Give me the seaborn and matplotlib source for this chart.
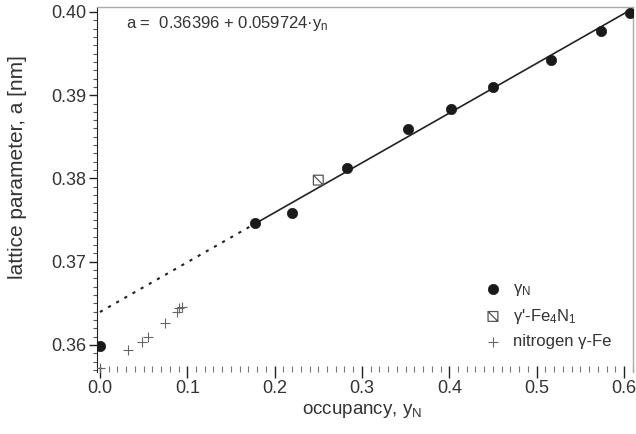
import numpy as np
import pandas as pd
import matplotlib
matplotlib.use("Agg")
import matplotlib.pyplot as plt
from matplotlib.path import Path
from matplotlib.ticker import MultipleLocator, FormatStrFormatter
import seaborn as sns

sns.set_style("ticks")
plt.rcParams['font.family'] = ['Liberation Sans', 'DejaVu Sans']
plt.rcParams['mathtext.fontset'] = 'custom'
plt.rcParams['mathtext.rm'] = 'Liberation Sans'
plt.rcParams['mathtext.it'] = 'Liberation Sans'

# gamma_N data (filled circles)
gn_y = [0.000, 0.178, 0.220, 0.283, 0.353, 0.402, 0.450, 0.517, 0.574, 0.607]
gn_a = [0.3599, 0.3747, 0.3758, 0.3812, 0.3859, 0.3883, 0.3910, 0.3942, 0.3977, 0.3999]

# gamma'-Fe4N1 (crossed square)
fe4n_y = [0.250]
fe4n_a = [0.3798]

# nitrogen gamma-Fe (crosses)
nfe_y = [0.000, 0.032, 0.048, 0.055, 0.074, 0.088, 0.091, 0.094]
nfe_a = [0.3572, 0.3594, 0.3604, 0.3610, 0.3626, 0.3640, 0.3644, 0.3646]

# linear fit a = a0 + k*y
a0, k = 0.36396, 0.059724
fit_solid = [0.178, 0.607]
fit_dash = [0.0, 0.178]

dark = '#222222'
txt = '#333333'

fig = plt.figure(figsize=(6.36, 4.34), dpi=100)
ax = fig.add_axes([0.1525, 0.143, 0.843, 0.841])

sns.lineplot(x=fit_dash, y=[a0 + k * v for v in fit_dash], ax=ax, color=dark,
             lw=1.5, linestyle=(0, (1.5, 3)))
sns.lineplot(x=fit_solid, y=[a0 + k * v for v in fit_solid], ax=ax, color=dark, lw=1.2)

sns.scatterplot(x=gn_y, y=gn_a, ax=ax, marker='o', s=55, color='#1a1a1a',
                edgecolor='#1a1a1a', linewidth=0.5, label='γ$_{\\mathrm{N}}$', zorder=5)

box = Path([(-1, -1), (1, -1), (1, 1), (-1, 1), (-1, -1), (-1, 1), (1, -1)],
           [Path.MOVETO, Path.LINETO, Path.LINETO, Path.LINETO, Path.CLOSEPOLY,
            Path.MOVETO, Path.LINETO])
ax.scatter(fe4n_y, fe4n_a, marker=box, s=50, facecolors='none', edgecolors='#555555',
           linewidths=0.9, label="γ'-Fe$_{4}$N$_{1}$", zorder=5)

sns.scatterplot(x=nfe_y, y=nfe_a, ax=ax, marker='+', s=60, color='#666666',
                linewidth=0.8, label='nitrogen γ-Fe', zorder=5)

ax.set_xlim(-0.0034, 0.6105)
ax.set_ylim(0.35676, 0.4006)
ax.xaxis.set_major_locator(MultipleLocator(0.1))
ax.xaxis.set_minor_locator(MultipleLocator(0.01))
ax.yaxis.set_major_locator(MultipleLocator(0.01))
ax.yaxis.set_minor_locator(MultipleLocator(0.001))
ax.xaxis.set_major_formatter(FormatStrFormatter('%.1f'))
ax.yaxis.set_major_formatter(FormatStrFormatter('%.2f'))

ax.tick_params(axis='y', which='major', direction='out', length=6, width=1, color=dark,
               labelsize=13, labelcolor=txt, pad=2)
ax.tick_params(axis='y', which='minor', direction='out', length=3, width=0.8, color='#555555')
ax.tick_params(axis='x', which='major', direction='inout', length=9, width=1, color=dark,
               labelsize=13, labelcolor=txt, pad=1)
ax.tick_params(axis='x', which='minor', direction='in', length=4, width=0.8, color='#777777')

ax.spines['left'].set_color(dark)
ax.spines['bottom'].set_visible(False)
for side in ['top', 'right']:
    ax.spines[side].set_visible(True)
    ax.spines[side].set_color('#aaaaaa')
    ax.spines[side].set_linewidth(1.0)

ax.set_xlabel('occupancy, y$_{\\mathrm{N}}$', fontsize=13.5, color=txt)
ax.set_ylabel('lattice parameter, a [nm]', fontsize=15, color=txt)
ax.xaxis.set_label_coords(0.494, -0.083)
ax.yaxis.set_label_coords(-0.13, 0.56)

ax.text(0.055, 0.955, 'a =  0.36396 + 0.059724·y$_{\\mathrm{n}}$', transform=ax.transAxes,
        fontsize=12, color=txt, va='center', ha='left')

ax.legend(loc='lower right', bbox_to_anchor=(0.978, 0.035), frameon=False, fontsize=12,
          handletextpad=0.3, handlelength=1.8, labelspacing=0.5, borderaxespad=0.2,
          labelcolor=txt)

fig.savefig('out.png', dpi=100)
